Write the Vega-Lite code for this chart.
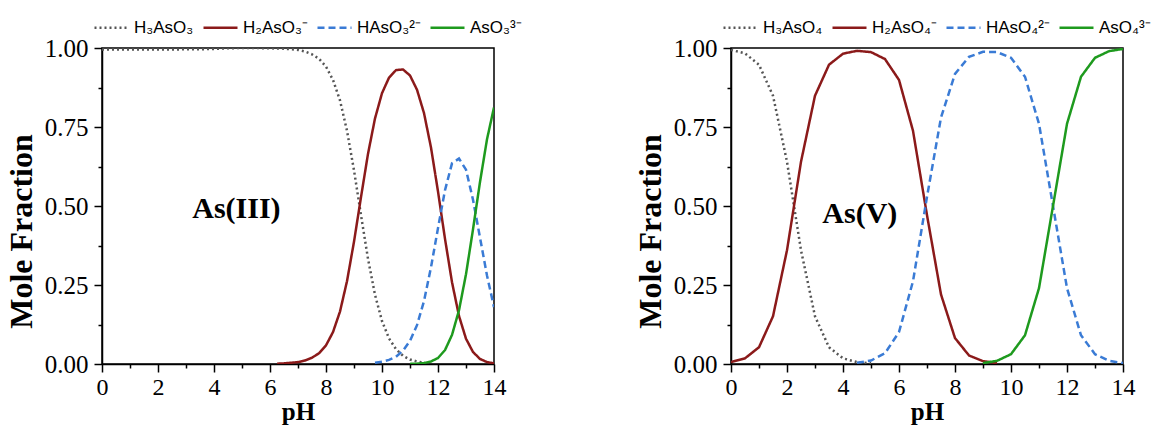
{
  "$schema": "https://vega.github.io/schema/vega-lite/v6.json",
  "background": "white",
  "padding": {"left": 4, "top": 8, "right": 0, "bottom": 0},
  "spacing": 110,
  "config": {
    "view": {"stroke": "black", "strokeWidth": 1.5},
    "font": "Liberation Serif",
    "axis": {
      "labelFont": "Liberation Serif", "labelFontSize": 25, "labelColor": "black",
      "titleFont": "Liberation Serif", "titleFontSize": 26, "titleFontWeight": "bold", "titleColor": "black",
      "domainColor": "black", "domainWidth": 1.5, "tickColor": "black", "tickWidth": 1.5, "tickSize": 8,
      "grid": false, "labelPadding": 6, "labelFlush": false, "labelOverlap": false
    },
    "axisY": {"titlePadding": 6, "titleFontSize": 32, "titleY": 183},
    "axisX": {"titlePadding": 0, "labelPadding": 3, "labelFontSize": 24, "titleFontSize": 25},
    "legend": {
      "orient": "none", "legendX": -9, "legendY": -39, "direction": "horizontal",
      "symbolType": "stroke", "symbolSize": 1156, "symbolStrokeWidth": 2.5,
      "labelFont": "Liberation Sans", "labelFontSize": 17, "labelColor": "black",
      "columnPadding": 4, "labelOffset": 4, "title": null
    }
  },
  "datasets": {
    "as3": [
      {"pH": 0, "frac": 0.995, "species": "H₃AsO₃"},
      {"pH": 0.5, "frac": 0.995, "species": "H₃AsO₃"},
      {"pH": 1, "frac": 0.995, "species": "H₃AsO₃"},
      {"pH": 1.5, "frac": 0.995, "species": "H₃AsO₃"},
      {"pH": 2, "frac": 0.995, "species": "H₃AsO₃"},
      {"pH": 2.5, "frac": 0.995, "species": "H₃AsO₃"},
      {"pH": 3, "frac": 0.996, "species": "H₃AsO₃"},
      {"pH": 3.5, "frac": 0.996, "species": "H₃AsO₃"},
      {"pH": 4, "frac": 0.997, "species": "H₃AsO₃"},
      {"pH": 4.5, "frac": 0.999, "species": "H₃AsO₃"},
      {"pH": 5, "frac": 1.0, "species": "H₃AsO₃"},
      {"pH": 5.5, "frac": 1.0, "species": "H₃AsO₃"},
      {"pH": 6, "frac": 0.999, "species": "H₃AsO₃"},
      {"pH": 6.5, "frac": 0.998, "species": "H₃AsO₃"},
      {"pH": 7, "frac": 0.994, "species": "H₃AsO₃"},
      {"pH": 7.25, "frac": 0.989, "species": "H₃AsO₃"},
      {"pH": 7.5, "frac": 0.980, "species": "H₃AsO₃"},
      {"pH": 7.75, "frac": 0.966, "species": "H₃AsO₃"},
      {"pH": 8, "frac": 0.941, "species": "H₃AsO₃"},
      {"pH": 8.25, "frac": 0.899, "species": "H₃AsO₃"},
      {"pH": 8.5, "frac": 0.834, "species": "H₃AsO₃"},
      {"pH": 8.75, "frac": 0.738, "species": "H₃AsO₃"},
      {"pH": 9, "frac": 0.613, "species": "H₃AsO₃"},
      {"pH": 9.25, "frac": 0.471, "species": "H₃AsO₃"},
      {"pH": 9.5, "frac": 0.333, "species": "H₃AsO₃"},
      {"pH": 9.75, "frac": 0.219, "species": "H₃AsO₃"},
      {"pH": 10, "frac": 0.136, "species": "H₃AsO₃"},
      {"pH": 10.25, "frac": 0.081, "species": "H₃AsO₃"},
      {"pH": 10.5, "frac": 0.047, "species": "H₃AsO₃"},
      {"pH": 10.75, "frac": 0.026, "species": "H₃AsO₃"},
      {"pH": 11, "frac": 0.014, "species": "H₃AsO₃"},
      {"pH": 11.25, "frac": 0.008, "species": "H₃AsO₃"},
      {"pH": 11.5, "frac": 0.004, "species": "H₃AsO₃"},

      {"pH": 6.25, "frac": 0.001, "species": "H₂AsO₃⁻"},
      {"pH": 6.5, "frac": 0.002, "species": "H₂AsO₃⁻"},
      {"pH": 7, "frac": 0.006, "species": "H₂AsO₃⁻"},
      {"pH": 7.25, "frac": 0.011, "species": "H₂AsO₃⁻"},
      {"pH": 7.5, "frac": 0.020, "species": "H₂AsO₃⁻"},
      {"pH": 7.75, "frac": 0.034, "species": "H₂AsO₃⁻"},
      {"pH": 8, "frac": 0.059, "species": "H₂AsO₃⁻"},
      {"pH": 8.25, "frac": 0.101, "species": "H₂AsO₃⁻"},
      {"pH": 8.5, "frac": 0.166, "species": "H₂AsO₃⁻"},
      {"pH": 8.75, "frac": 0.262, "species": "H₂AsO₃⁻"},
      {"pH": 9, "frac": 0.387, "species": "H₂AsO₃⁻"},
      {"pH": 9.25, "frac": 0.528, "species": "H₂AsO₃⁻"},
      {"pH": 9.5, "frac": 0.665, "species": "H₂AsO₃⁻"},
      {"pH": 9.75, "frac": 0.777, "species": "H₂AsO₃⁻"},
      {"pH": 10, "frac": 0.857, "species": "H₂AsO₃⁻"},
      {"pH": 10.25, "frac": 0.906, "species": "H₂AsO₃⁻"},
      {"pH": 10.5, "frac": 0.930, "species": "H₂AsO₃⁻"},
      {"pH": 10.75, "frac": 0.932, "species": "H₂AsO₃⁻"},
      {"pH": 11, "frac": 0.913, "species": "H₂AsO₃⁻"},
      {"pH": 11.25, "frac": 0.868, "species": "H₂AsO₃⁻"},
      {"pH": 11.5, "frac": 0.794, "species": "H₂AsO₃⁻"},
      {"pH": 11.75, "frac": 0.685, "species": "H₂AsO₃⁻"},
      {"pH": 12, "frac": 0.546, "species": "H₂AsO₃⁻"},
      {"pH": 12.25, "frac": 0.396, "species": "H₂AsO₃⁻"},
      {"pH": 12.5, "frac": 0.259, "species": "H₂AsO₃⁻"},
      {"pH": 12.75, "frac": 0.152, "species": "H₂AsO₃⁻"},
      {"pH": 13, "frac": 0.080, "species": "H₂AsO₃⁻"},
      {"pH": 13.25, "frac": 0.038, "species": "H₂AsO₃⁻"},
      {"pH": 13.5, "frac": 0.016, "species": "H₂AsO₃⁻"},
      {"pH": 13.75, "frac": 0.006, "species": "H₂AsO₃⁻"},
      {"pH": 14, "frac": 0.002, "species": "H₂AsO₃⁻"},

      {"pH": 9.75, "frac": 0.004, "species": "HAsO₃²⁻"},
      {"pH": 10, "frac": 0.007, "species": "HAsO₃²⁻"},
      {"pH": 10.25, "frac": 0.013, "species": "HAsO₃²⁻"},
      {"pH": 10.5, "frac": 0.023, "species": "HAsO₃²⁻"},
      {"pH": 10.75, "frac": 0.042, "species": "HAsO₃²⁻"},
      {"pH": 11, "frac": 0.073, "species": "HAsO₃²⁻"},
      {"pH": 11.25, "frac": 0.123, "species": "HAsO₃²⁻"},
      {"pH": 11.5, "frac": 0.199, "species": "HAsO₃²⁻"},
      {"pH": 11.75, "frac": 0.306, "species": "HAsO₃²⁻"},
      {"pH": 12, "frac": 0.430, "species": "HAsO₃²⁻"},
      {"pH": 12.25, "frac": 0.550, "species": "HAsO₃²⁻"},
      {"pH": 12.5, "frac": 0.635, "species": "HAsO₃²⁻"},
      {"pH": 12.75, "frac": 0.650, "species": "HAsO₃²⁻"},
      {"pH": 13, "frac": 0.615, "species": "HAsO₃²⁻"},
      {"pH": 13.25, "frac": 0.520, "species": "HAsO₃²⁻"},
      {"pH": 13.5, "frac": 0.400, "species": "HAsO₃²⁻"},
      {"pH": 13.75, "frac": 0.280, "species": "HAsO₃²⁻"},
      {"pH": 14, "frac": 0.180, "species": "HAsO₃²⁻"},

      {"pH": 11, "frac": 0.0003, "species": "AsO₃³⁻"},
      {"pH": 11.25, "frac": 0.001, "species": "AsO₃³⁻"},
      {"pH": 11.5, "frac": 0.003, "species": "AsO₃³⁻"},
      {"pH": 11.75, "frac": 0.008, "species": "AsO₃³⁻"},
      {"pH": 12, "frac": 0.019, "species": "AsO₃³⁻"},
      {"pH": 12.25, "frac": 0.044, "species": "AsO₃³⁻"},
      {"pH": 12.5, "frac": 0.092, "species": "AsO₃³⁻"},
      {"pH": 12.75, "frac": 0.170, "species": "AsO₃³⁻"},
      {"pH": 13, "frac": 0.284, "species": "AsO₃³⁻"},
      {"pH": 13.25, "frac": 0.426, "species": "AsO₃³⁻"},
      {"pH": 13.5, "frac": 0.576, "species": "AsO₃³⁻"},
      {"pH": 13.75, "frac": 0.711, "species": "AsO₃³⁻"},
      {"pH": 14, "frac": 0.812, "species": "AsO₃³⁻"}
    ],
    "as5": [
      {"pH": 0, "frac": 0.994, "species": "H₃AsO₄"},
      {"pH": 0.5, "frac": 0.983, "species": "H₃AsO₄"},
      {"pH": 1, "frac": 0.947, "species": "H₃AsO₄"},
      {"pH": 1.5, "frac": 0.849, "species": "H₃AsO₄"},
      {"pH": 2, "frac": 0.640, "species": "H₃AsO₄"},
      {"pH": 2.5, "frac": 0.360, "species": "H₃AsO₄"},
      {"pH": 3, "frac": 0.151, "species": "H₃AsO₄"},
      {"pH": 3.5, "frac": 0.053, "species": "H₃AsO₄"},
      {"pH": 4, "frac": 0.018, "species": "H₃AsO₄"},
      {"pH": 4.5, "frac": 0.006, "species": "H₃AsO₄"},
      {"pH": 5, "frac": 0.002, "species": "H₃AsO₄"},

      {"pH": 0, "frac": 0.006, "species": "H₂AsO₄⁻"},
      {"pH": 0.5, "frac": 0.018, "species": "H₂AsO₄⁻"},
      {"pH": 1, "frac": 0.053, "species": "H₂AsO₄⁻"},
      {"pH": 1.5, "frac": 0.151, "species": "H₂AsO₄⁻"},
      {"pH": 2, "frac": 0.360, "species": "H₂AsO₄⁻"},
      {"pH": 2.5, "frac": 0.640, "species": "H₂AsO₄⁻"},
      {"pH": 3, "frac": 0.849, "species": "H₂AsO₄⁻"},
      {"pH": 3.5, "frac": 0.947, "species": "H₂AsO₄⁻"},
      {"pH": 4, "frac": 0.982, "species": "H₂AsO₄⁻"},
      {"pH": 4.5, "frac": 0.991, "species": "H₂AsO₄⁻"},
      {"pH": 5, "frac": 0.987, "species": "H₂AsO₄⁻"},
      {"pH": 5.5, "frac": 0.965, "species": "H₂AsO₄⁻"},
      {"pH": 6, "frac": 0.899, "species": "H₂AsO₄⁻"},
      {"pH": 6.5, "frac": 0.738, "species": "H₂AsO₄⁻"},
      {"pH": 7, "frac": 0.471, "species": "H₂AsO₄⁻"},
      {"pH": 7.5, "frac": 0.220, "species": "H₂AsO₄⁻"},
      {"pH": 8, "frac": 0.082, "species": "H₂AsO₄⁻"},
      {"pH": 8.5, "frac": 0.027, "species": "H₂AsO₄⁻"},
      {"pH": 9, "frac": 0.009, "species": "H₂AsO₄⁻"},
      {"pH": 9.5, "frac": 0.003, "species": "H₂AsO₄⁻"},

      {"pH": 4.5, "frac": 0.004, "species": "HAsO₄²⁻"},
      {"pH": 5, "frac": 0.011, "species": "HAsO₄²⁻"},
      {"pH": 5.5, "frac": 0.034, "species": "HAsO₄²⁻"},
      {"pH": 6, "frac": 0.101, "species": "HAsO₄²⁻"},
      {"pH": 6.5, "frac": 0.262, "species": "HAsO₄²⁻"},
      {"pH": 7, "frac": 0.529, "species": "HAsO₄²⁻"},
      {"pH": 7.5, "frac": 0.780, "species": "HAsO₄²⁻"},
      {"pH": 8, "frac": 0.918, "species": "HAsO₄²⁻"},
      {"pH": 8.5, "frac": 0.972, "species": "HAsO₄²⁻"},
      {"pH": 9, "frac": 0.988, "species": "HAsO₄²⁻"},
      {"pH": 9.5, "frac": 0.987, "species": "HAsO₄²⁻"},
      {"pH": 10, "frac": 0.969, "species": "HAsO₄²⁻"},
      {"pH": 10.5, "frac": 0.909, "species": "HAsO₄²⁻"},
      {"pH": 11, "frac": 0.760, "species": "HAsO₄²⁻"},
      {"pH": 11.5, "frac": 0.500, "species": "HAsO₄²⁻"},
      {"pH": 12, "frac": 0.240, "species": "HAsO₄²⁻"},
      {"pH": 12.5, "frac": 0.091, "species": "HAsO₄²⁻"},
      {"pH": 13, "frac": 0.031, "species": "HAsO₄²⁻"},
      {"pH": 13.5, "frac": 0.010, "species": "HAsO₄²⁻"},
      {"pH": 14, "frac": 0.003, "species": "HAsO₄²⁻"},

      {"pH": 9, "frac": 0.003, "species": "AsO₄³⁻"},
      {"pH": 9.5, "frac": 0.010, "species": "AsO₄³⁻"},
      {"pH": 10, "frac": 0.031, "species": "AsO₄³⁻"},
      {"pH": 10.5, "frac": 0.091, "species": "AsO₄³⁻"},
      {"pH": 11, "frac": 0.240, "species": "AsO₄³⁻"},
      {"pH": 11.5, "frac": 0.500, "species": "AsO₄³⁻"},
      {"pH": 12, "frac": 0.760, "species": "AsO₄³⁻"},
      {"pH": 12.5, "frac": 0.909, "species": "AsO₄³⁻"},
      {"pH": 13, "frac": 0.969, "species": "AsO₄³⁻"},
      {"pH": 13.5, "frac": 0.990, "species": "AsO₄³⁻"},
      {"pH": 14, "frac": 0.997, "species": "AsO₄³⁻"}
    ]
  },
  "hconcat": [
    {
      "width": 392, "height": 316,
      "layer": [
        {
          "data": {"name": "as3"},
          "mark": {"type": "line", "strokeWidth": 2.5, "clip": true},
          "encoding": {
            "x": {"field": "pH", "type": "quantitative", "scale": {"domain": [0, 14], "nice": false},
                  "axis": {"values": [0, 2, 4, 6, 8, 10, 12, 14], "title": "pH"}},
            "y": {"field": "frac", "type": "quantitative", "scale": {"domain": [0, 1], "nice": false},
                  "axis": {"values": [0, 0.25, 0.5, 0.75, 1], "format": ".2f", "title": "Mole Fraction"}},
            "color": {"field": "species", "type": "nominal",
                      "scale": {"domain": ["H₃AsO₃", "H₂AsO₃⁻", "HAsO₃²⁻", "AsO₃³⁻"], "range": ["#555555", "#8B1A1A", "#3A7BD5", "#1E9A1E"]},
                      "legend": {"title": null}},
            "strokeDash": {"field": "species", "type": "nominal",
                           "scale": {"domain": ["H₃AsO₃", "H₂AsO₃⁻", "HAsO₃²⁻", "AsO₃³⁻"], "range": [[2, 3], [1, 0], [7, 4], [1, 0]]},
                           "legend": {"title": null}}
          }
        },
        {
          "data": {"values": [{"pH": 4.8, "frac": 0.49, "label": "As(III)"}]},
          "mark": {"type": "text", "font": "Liberation Serif", "fontSize": 30, "fontWeight": "bold", "color": "black"},
          "encoding": {
            "x": {"field": "pH", "type": "quantitative",
                  "axis": {"orient": "bottom", "values": [1, 3, 5, 7, 9, 11, 13], "labels": false, "domain": false, "tickSize": 4, "title": null}},
            "y": {"field": "frac", "type": "quantitative",
                  "axis": {"orient": "left", "values": [0.125, 0.375, 0.625, 0.875], "labels": false, "domain": false, "tickSize": 4, "title": null}},
            "text": {"field": "label"}
          }
        }
      ],
      "resolve": {"axis": {"x": "independent", "y": "independent"}}
    },
    {
      "width": 392, "height": 316,
      "layer": [
        {
          "data": {"name": "as5"},
          "mark": {"type": "line", "strokeWidth": 2.5, "clip": true},
          "encoding": {
            "x": {"field": "pH", "type": "quantitative", "scale": {"domain": [0, 14], "nice": false},
                  "axis": {"values": [0, 2, 4, 6, 8, 10, 12, 14], "title": "pH"}},
            "y": {"field": "frac", "type": "quantitative", "scale": {"domain": [0, 1], "nice": false},
                  "axis": {"values": [0, 0.25, 0.5, 0.75, 1], "format": ".2f", "title": "Mole Fraction"}},
            "color": {"field": "species", "type": "nominal",
                      "scale": {"domain": ["H₃AsO₄", "H₂AsO₄⁻", "HAsO₄²⁻", "AsO₄³⁻"], "range": ["#555555", "#8B1A1A", "#3A7BD5", "#1E9A1E"]},
                      "legend": {"title": null}},
            "strokeDash": {"field": "species", "type": "nominal",
                           "scale": {"domain": ["H₃AsO₄", "H₂AsO₄⁻", "HAsO₄²⁻", "AsO₄³⁻"], "range": [[2, 3], [1, 0], [7, 4], [1, 0]]},
                           "legend": {"title": null}}
          }
        },
        {
          "data": {"values": [{"pH": 4.6, "frac": 0.475, "label": "As(V)"}]},
          "mark": {"type": "text", "font": "Liberation Serif", "fontSize": 30, "fontWeight": "bold", "color": "black"},
          "encoding": {
            "x": {"field": "pH", "type": "quantitative",
                  "axis": {"orient": "bottom", "values": [1, 3, 5, 7, 9, 11, 13], "labels": false, "domain": false, "tickSize": 4, "title": null}},
            "y": {"field": "frac", "type": "quantitative",
                  "axis": {"orient": "left", "values": [0.125, 0.375, 0.625, 0.875], "labels": false, "domain": false, "tickSize": 4, "title": null}},
            "text": {"field": "label"}
          }
        }
      ],
      "resolve": {"axis": {"x": "independent", "y": "independent"}}
    }
  ],
  "resolve": {"scale": {"color": "independent", "strokeDash": "independent"}}
}
